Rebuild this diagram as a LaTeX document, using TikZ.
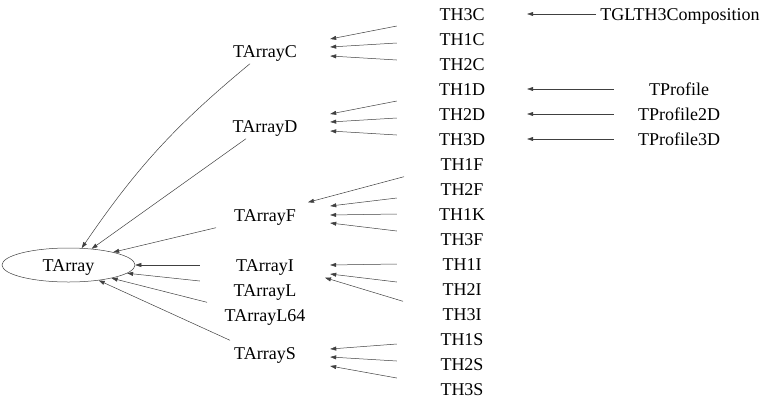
\documentclass[tikz,border=0pt]{standalone}
\usepackage{fontspec}
\setmainfont{Liberation Serif}
\usetikzlibrary{arrows.meta, positioning, shapes.geometric}

\begin{document}
\begin{tikzpicture}[x=1pt, y=-1pt, >={Triangle[length=6pt,width=4pt]},
  cls/.style={minimum width=130pt, minimum height=25pt, inner sep=0pt, inner xsep=4pt,
    font=\fontsize{18}{18}\selectfont, text height=12pt, text depth=0pt},
  edge/.style={->, draw=black!75, line width=0.5pt}]
\useasboundingbox (0,0) rectangle (768,405);

% Base class
\node[cls, ellipse, draw=black!75, line width=0.5pt, minimum width=133pt, minimum height=34pt]
  (TArray) at (68.5,265) {TArray};

% Array classes
\foreach \n/\y in {TArrayC/51, TArrayD/126, TArrayF/215, TArrayI/265,
                   TArrayL/290, TArrayL64/315, TArrayS/353}
  \node[cls] (\n) at (265,\y) {\n};

% Histogram classes, one row each
\foreach \n [count=\i from 0] in {TH3C, TH1C, TH2C, TH1D, TH2D, TH3D, TH1F, TH2F,
                                  TH1K, TH3F, TH1I, TH2I, TH3I, TH1S, TH2S, TH3S}
  \node[cls] (\n) at (462,14+25*\i) {\n};

% Derived classes
\node[cls] (TGLTH3Composition) at (680,14) {TGLTH3Composition};
\foreach \n/\y in {TProfile/89, TProfile2D/114, TProfile3D/139}
  \node[cls] (\n) at (679,\y) {\n};

% Histograms -> arrays
\foreach \a/\b/\s/\e in {TH3C/TArrayC/-12/12, TH1C/TArrayC/-4/4, TH2C/TArrayC/4/-5,
                         TH1D/TArrayD/-12/12, TH2D/TArrayD/-4/4, TH3D/TArrayD/4/-5,
                         TH2F/TArrayF/-9/9, TH1K/TArrayF/0/0, TH3F/TArrayF/8/-8,
                         TH1I/TArrayI/0/0, TH2I/TArrayI/7/-9,
                         TH1S/TArrayS/-5/4, TH2S/TArrayS/3/-4, TH3S/TArrayS/11/-13}
  \draw[edge] ([yshift=\s pt]\a.west) -- ([yshift=\e pt]\b.east);
\draw[edge] ([xshift=-58pt]TH1F.south) -- ([xshift=43pt]TArrayF.north);
\draw[edge] ([xshift=-59pt]TH3I.north) -- ([xshift=60pt]TArrayI.south);

% Arrays -> TArray
\draw[edge] ([xshift=-15pt]TArrayC.south) to[bend right=8] (TArray.52);
\draw[edge] ([xshift=-19pt]TArrayD.south) -- (TArray.35);
\draw[edge] ([xshift=-49pt]TArrayF.south) -- (TArray.16);
\draw[edge] (TArrayI.west) -- (TArray.east);
\draw[edge] ([yshift=9pt]TArrayL.west) -- (TArray.-8);
\draw[edge] ([xshift=-58pt]TArrayL64.north) -- (TArray.-17);
\draw[edge] ([xshift=-35pt]TArrayS.north) -- (TArray.-27);

% Derived -> histograms
\foreach \a/\b in {TGLTH3Composition/TH3C, TProfile/TH1D, TProfile2D/TH2D, TProfile3D/TH3D}
  \draw[edge] (\a) -- (\b);

\end{tikzpicture}
\end{document}
